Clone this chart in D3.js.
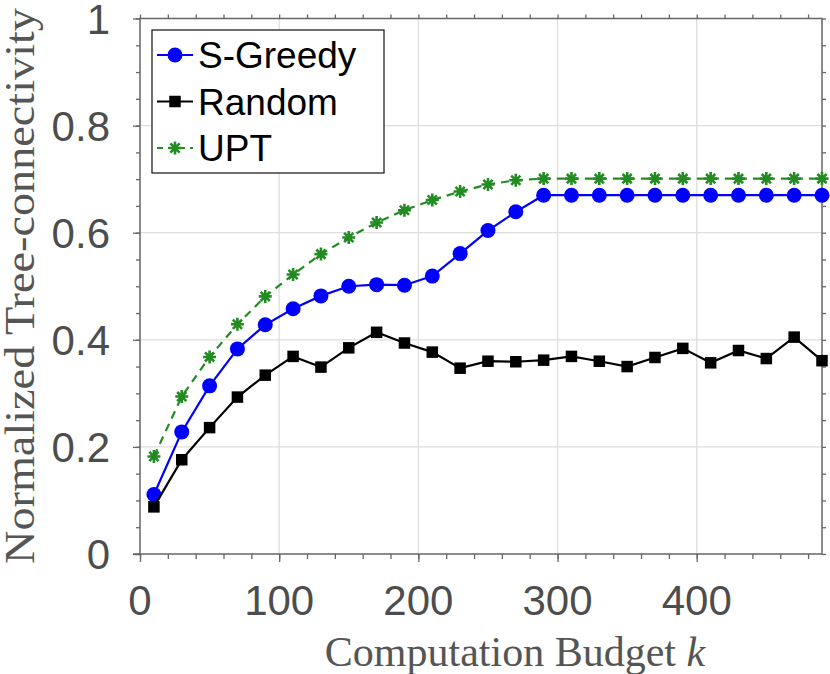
<!DOCTYPE html>
<html><head><meta charset="utf-8">
<script src="https://cdn.jsdelivr.net/npm/d3@7"></script>
<style>body{margin:0;background:#fff}svg{display:block}</style>
</head><body>
<svg id="c" width="830" height="674"></svg>
<script>
const budget = [10,30,50,70,90,110,130,150,170,190,210,230,250,270,290,310,330,350,370,390,410,430,450,470,490];
const sGreedy = [0.111,0.228,0.314,0.383,0.428,0.458,0.482,0.500,0.503,0.502,0.519,0.561,0.604,0.639,0.670,0.670,0.670,0.670,0.670,0.670,0.670,0.670,0.670,0.670,0.670];
const random = [0.088,0.176,0.236,0.293,0.334,0.369,0.349,0.385,0.414,0.394,0.377,0.347,0.360,0.359,0.362,0.369,0.360,0.350,0.367,0.384,0.357,0.380,0.365,0.405,0.361];
const upt = [0.182,0.294,0.368,0.429,0.481,0.522,0.560,0.591,0.619,0.642,0.661,0.677,0.690,0.698,0.701,0.701,0.701,0.701,0.701,0.701,0.701,0.701,0.701,0.701,0.701];
const seriesNames = ["S-Greedy","Random","UPT"];
const xTicks = [0,100,200,300,400];
const yTicks = [0,0.2,0.4,0.6,0.8,1];
const yTickLabels = ["0","0.2","0.4","0.6","0.8","1"];

const svg = d3.select("#c");
const L=140, R=822, T=18.5, B=554;
const x = d3.scaleLinear().domain([0,490]).range([L,R]);
const y = d3.scaleLinear().domain([0,1]).range([B,T]);
const axisCol="#666", txtCol="#4d4d4d";

// grid
const g = svg.append("g");
g.selectAll(".gx").data(xTicks.filter(d=>d>0)).join("line")
  .attr("x1",d=>x(d)).attr("x2",d=>x(d)).attr("y1",T).attr("y2",B)
  .attr("stroke","#dedede").attr("stroke-width",1.3);
g.selectAll(".gy").data(yTicks.filter(d=>d>0&&d<1)).join("line")
  .attr("y1",d=>y(d)).attr("y2",d=>y(d)).attr("x1",L).attr("x2",R)
  .attr("stroke","#dedede").attr("stroke-width",1.3);

// axes with d3 axis generators (outward ticks)
const minorX = d3.range(0,491,20);
const minorY = d3.range(0,1.0001,0.05);
function styleAxis(sel){ sel.select(".domain").remove(); sel.selectAll("line").attr("stroke",axisCol).attr("stroke-width",1.3); sel.selectAll("text").remove(); }
svg.append("g").attr("transform",`translate(0,${B})`).call(d3.axisBottom(x).tickValues(minorX).tickSize(5)).call(styleAxis);
svg.append("g").attr("transform",`translate(0,${B})`).call(d3.axisBottom(x).tickValues(xTicks).tickSize(8)).call(styleAxis);
svg.append("g").attr("transform",`translate(0,${T})`).call(d3.axisTop(x).tickValues(minorX).tickSize(4)).call(styleAxis);
svg.append("g").attr("transform",`translate(${L},0)`).call(d3.axisLeft(y).tickValues(minorY).tickSize(4)).call(styleAxis);
svg.append("g").attr("transform",`translate(${L},0)`).call(d3.axisLeft(y).tickValues(yTicks).tickSize(7)).call(styleAxis);
svg.append("g").attr("transform",`translate(${R},0)`).call(d3.axisRight(y).tickValues(minorY).tickSize(4)).call(styleAxis);
svg.append("rect").attr("x",L).attr("y",T).attr("width",R-L).attr("height",B-T)
  .attr("fill","none").attr("stroke",axisCol).attr("stroke-width",1.5);
svg.append("line").attr("x1",L-7).attr("x2",L).attr("y1",B).attr("y2",B).attr("stroke",axisCol).attr("stroke-width",1.5);

// tick labels
svg.selectAll(".xl").data(xTicks).join("text")
  .attr("x",d=>x(d)).attr("y",615).attr("text-anchor","middle")
  .attr("font-family","Liberation Sans, Arial, sans-serif").attr("font-size",42).attr("fill",txtCol)
  .text(d=>d);
svg.selectAll(".yl").data(yTicks).join("text")
  .attr("x",110).attr("y",d=>y(d)+15).attr("text-anchor","end")
  .attr("font-family","Liberation Sans, Arial, sans-serif").attr("font-size",42).attr("fill",txtCol)
  .text((d,i)=>yTickLabels[i]);

// axis labels
const xl = svg.append("text").attr("x",515).attr("y",666).attr("text-anchor","middle")
  .attr("font-family","Liberation Serif, Times New Roman, serif").attr("font-size",42).attr("fill","#555");
xl.append("tspan").text("Computation Budget ");
xl.append("tspan").attr("font-style","italic").text("k");
svg.append("text").attr("transform","translate(34,286) rotate(-90)").attr("text-anchor","middle")
  .attr("font-family","Liberation Serif, Times New Roman, serif").attr("font-size",43).attr("fill","#555")
  .attr("textLength",556).attr("lengthAdjust","spacingAndGlyphs")
  .text("Normalized Tree-connectivity");

// series
const series = [
  {name:seriesNames[0], vals:sGreedy, color:"#0000ff", dash:null, marker:"circle"},
  {name:seriesNames[1], vals:random, color:"#000000", dash:null, marker:"square"},
  {name:seriesNames[2], vals:upt, color:"#228b22", dash:"8,6", marker:"star"}
];
const line = d3.line().x(d=>x(d[0])).y(d=>y(d[1]));
function drawMarker(sel, type, color){
  if(type==="circle"){ sel.append("circle").attr("r",7.5).attr("fill",color); }
  else if(type==="square"){ sel.append("rect").attr("x",-5.75).attr("y",-5.75).attr("width",11.5).attr("height",11.5).attr("fill",color); }
  else {
    const r=6.5, s=r*Math.SQRT1_2;
    sel.append("path").attr("d",`M${-r},0L${r},0M0,${-r}L0,${r}M${-s},${-s}L${s},${s}M${-s},${s}L${s},${-s}`)
      .attr("stroke",color).attr("stroke-width",2.6).attr("fill","none");
  }
}
series.forEach(s=>{
  const pts = budget.map((b,i)=>[b,s.vals[i]]);
  svg.append("path").datum(pts).attr("d",line).attr("fill","none")
    .attr("stroke",s.color).attr("stroke-width",2.2).attr("stroke-dasharray",s.dash);
  svg.append("g").selectAll("g").data(pts).join("g")
    .attr("transform",d=>`translate(${x(d[0])},${y(d[1])})`)
    .each(function(){ drawMarker(d3.select(this), s.marker, s.color); });
});

// legend
const lg = svg.append("g");
lg.append("rect").attr("x",152).attr("y",30).attr("width",232).attr("height",143)
  .attr("fill","#fff").attr("stroke","#222").attr("stroke-width",1.3);
series.forEach((s,i)=>{
  const cy = 55 + i*46.5;
  lg.append("line").attr("x1",157).attr("x2",193).attr("y1",cy).attr("y2",cy)
    .attr("stroke",s.color).attr("stroke-width",2.2).attr("stroke-dasharray",s.dash?"6,5":null);
  drawMarker(lg.append("g").attr("transform",`translate(175,${cy})`), s.marker, s.color);
  lg.append("text").attr("x",198).attr("y",cy+13).attr("font-family","Liberation Sans, Arial, sans-serif")
    .attr("font-size",37).attr("fill","#000").text(s.name);
});
</script>
</body></html>
